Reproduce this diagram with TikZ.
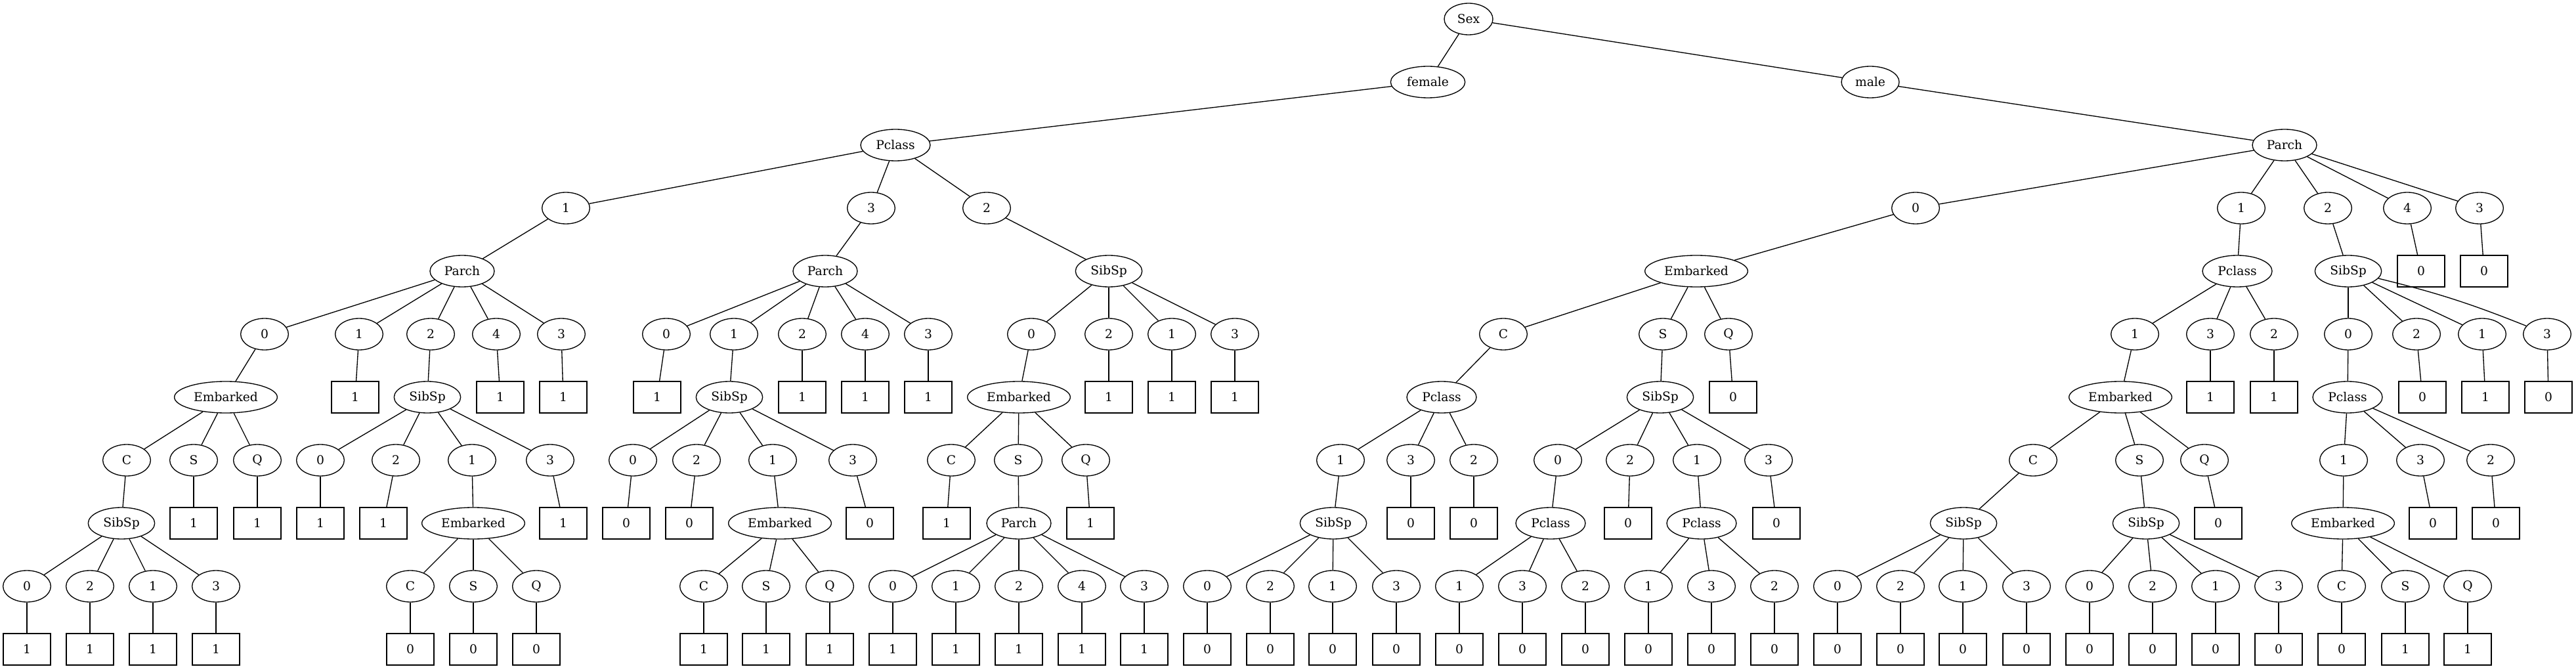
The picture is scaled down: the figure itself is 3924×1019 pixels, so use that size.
\documentclass[tikz,border=0pt]{standalone}
\usepackage{fontspec}
\setmainfont{DejaVu Serif}
\usetikzlibrary{shapes.geometric}
\begin{document}
\begin{tikzpicture}[x=0.75pt,y=-0.75pt,
  every node/.style={font=\fontsize{14pt}{16pt}\selectfont, inner sep=0pt, line width=1pt},
  ov/.style={draw, ellipse, minimum width=54.5pt, minimum height=36pt},
  bx/.style={draw, rectangle, minimum width=54pt, minimum height=36pt},
  emb/.style={ov, minimum width=117.5pt},
  sib/.style={ov, minimum width=76pt},
  par/.style={ov, minimum width=73.5pt},
  pcl/.style={ov, minimum width=79.5pt},
  e/.style={draw, line width=1pt}]
\useasboundingbox (0,0) rectangle (3924,1019);
% levels 0-2
\node[ov, minimum width=55.5pt] (sex) at (2237,29) {Sex};
\node[ov, minimum width=85pt] (fem) at (2175,125) {female};
\node[ov, minimum width=66pt] (mal) at (2849,125) {male};
\node[pcl] (fP) at (1364,221) {Pclass};
\node[par] (mP) at (3480,221) {Parch};
% level 3
\foreach \n/\x/\t in {f1/862/1, f3/1327/3, f2/1503/2, m0/2918/0, m1/3414/1, m2/3546/2, m4/3667/4, m3/3777/3}
  \node[ov] (\n) at (\x,317) {\t};
% level 4
\node[par] (aP) at (704,413) {Parch};
\node[par] (bP) at (1257,413) {Parch};
\node[sib] (cS) at (1689,413) {SibSp};
\node[emb] (dE) at (2584,413) {Embarked};
\node[pcl] (eP) at (3408,413) {Pclass};
\node[sib] (gS) at (3577,413) {SibSp};
\node[bx] (m4L) at (3688,413) {0};
\node[bx] (m3L) at (3784,413) {0};
% level 5
\foreach \n/\x/\t in {a0/403/0, a1/547/1, a2/656/2, a4/756/4, a3/855/3,
  b0/1015/0, b1/1118/1, b2/1222/2, b4/1318/4, b3/1414/3,
  c0/1571/0, c2/1689/2, c1/1785/1, c3/1881/3,
  dC/2290/C, dS/2533/S, dQ/2633/Q,
  e1/3252/1, e3/3367/3, e2/3464/2,
  g0/3577/0, g2/3681/2, g1/3781/1, g3/3880/3}
  \node[ov] (\n) at (\x,509) {\t};
% level 6
\node[emb] (aE) at (344,605) {Embarked};
\node[sib] (aS) at (651,605) {SibSp};
\node[sib] (bS) at (1111,605) {SibSp};
\node[emb] (cE) at (1552,605) {Embarked};
\node[pcl] (dCP) at (2196,605) {Pclass};
\node[sib] (dSS) at (2529,605) {SibSp};
\node[emb] (eE) at (3230,605) {Embarked};
\node[pcl] (gP) at (3576,605) {Pclass};
\foreach \n/\x/\v in {a1L/541/1, a4L/762/1, a3L/858/1, b0L/1001/1, b2L/1222/1, b4L/1318/1, b3L/1414/1,
  c2L/1689/1, c1L/1785/1, c3L/1881/1, dQL/2640/0, e3L/3367/1, e2L/3464/1, g2L/3690/0, g1L/3786/1, g3L/3882/0}
  \node[bx] (\n) at (\x,605) {\v};
% level 7
\foreach \n/\x/\t in {aEC/193/C, aES/295/S, aEQ/392/Q, aS0/488/0, aS2/603/2, aS1/719/1, aS3/838/3,
  bS0/964/0, bS2/1061/2, bS1/1177/1, bS3/1299/3, cEC/1449/C, cES/1551/S, cEQ/1654/Q,
  dCP1/2042/1, dCP3/2149/3, dCP2/2245/2, dSS0/2373/0, dSS2/2483/2, dSS1/2585/1, dSS3/2694/3,
  eC/3097/C, eS/3259/S, eQ/3358/Q, gP1/3570/1, gP3/3687/3, gP2/3794/2}
  \node[ov] (\n) at (\x,701) {\t};
% level 8
\node[sib] (aECS) at (185,797) {SibSp};
\node[emb] (aS1E) at (721,797) {Embarked};
\node[emb] (bS1E) at (1188,797) {Embarked};
\node[par] (cP) at (1552,797) {Parch};
\node[sib] (dX) at (2031,797) {SibSp};
\node[pcl] (dY) at (2362,797) {Pclass};
\node[pcl] (dZ) at (2592,797) {Pclass};
\node[sib] (eCS) at (2991,797) {SibSp};
\node[sib] (eSS) at (3269,797) {SibSp};
\node[emb] (gE) at (3569,797) {Embarked};
\foreach \n/\x/\v in {aESL/295/1, aEQL/392/1, aS0L/488/1, aS2L/584/1, aS3L/858/1,
  bS0L/954/0, bS2L/1050/0, bS3L/1325/0, cECL/1442/1, cEQL/1661/1,
  dCP3L/2149/0, dCP2L/2245/0, dSS2L/2480/0, dSS3L/2706/0, eQL/3379/0, gP3L/3706/0, gP2L/3802/0}
  \node[bx] (\n) at (\x,797) {\v};
% levels 9-10
\foreach \n/\x/\t/\v in {aECS0/41/0/1, aECS2/137/2/1, aECS1/233/1/1, aECS3/329/3/1,
  aS1EC/625/C/0, aS1ES/721/S/0, aS1EQ/817/Q/0,
  bEC/1072/C/1, bES/1167/S/1, bEQ/1264/Q/1,
  cP0/1360/0/1, cP1/1456/1/1, cP2/1552/2/1, cP4/1648/4/1, cP3/1743/3/1,
  dX0/1839/0/0, dX2/1935/2/0, dX1/2030/1/0, dX3/2127/3/0,
  dY1/2223/1/0, dY3/2319/3/0, dY2/2415/2/0,
  dZ1/2511/1/0, dZ3/2607/3/0, dZ2/2703/2/0,
  eCS0/2799/0/0, eCS2/2895/2/0, eCS1/2990/1/0, eCS3/3087/3/0,
  eSS0/3183/0/0, eSS2/3279/2/0, eSS1/3375/1/0, eSS3/3471/3/0,
  gEC/3567/C/0, gES/3664/S/1, gEQ/3759/Q/1}
  {\node[ov] (\n) at (\x,893) {\t};
   \node[bx] (\n-L) at (\x,989) {\v};
   \draw[e] (\n) -- (\n-L);}
% edges
\foreach \a/\b in {sex/fem, sex/mal, fem/fP, mal/mP,
  fP/f1, fP/f3, fP/f2, f1/aP, f3/bP, f2/cS,
  aP/a0, aP/a1, aP/a2, aP/a4, aP/a3, a0/aE, a1/a1L, a2/aS, a4/a4L, a3/a3L,
  aE/aEC, aE/aES, aE/aEQ, aEC/aECS, aES/aESL, aEQ/aEQL,
  aECS/aECS0, aECS/aECS2, aECS/aECS1, aECS/aECS3,
  aS/aS0, aS/aS2, aS/aS1, aS/aS3, aS0/aS0L, aS2/aS2L, aS1/aS1E, aS3/aS3L,
  aS1E/aS1EC, aS1E/aS1ES, aS1E/aS1EQ,
  bP/b0, bP/b1, bP/b2, bP/b4, bP/b3, b0/b0L, b1/bS, b2/b2L, b4/b4L, b3/b3L,
  bS/bS0, bS/bS2, bS/bS1, bS/bS3, bS0/bS0L, bS2/bS2L, bS1/bS1E, bS3/bS3L,
  bS1E/bEC, bS1E/bES, bS1E/bEQ,
  cS/c0, cS/c2, cS/c1, cS/c3, c0/cE, c2/c2L, c1/c1L, c3/c3L,
  cE/cEC, cE/cES, cE/cEQ, cEC/cECL, cES/cP, cEQ/cEQL,
  cP/cP0, cP/cP1, cP/cP2, cP/cP4, cP/cP3,
  mP/m0, mP/m1, mP/m2, mP/m4, mP/m3, m0/dE, m1/eP, m2/gS, m4/m4L, m3/m3L,
  dE/dC, dE/dS, dE/dQ, dC/dCP, dS/dSS, dQ/dQL,
  dCP/dCP1, dCP/dCP3, dCP/dCP2, dCP1/dX, dCP3/dCP3L, dCP2/dCP2L,
  dX/dX0, dX/dX2, dX/dX1, dX/dX3,
  dSS/dSS0, dSS/dSS2, dSS/dSS1, dSS/dSS3, dSS0/dY, dSS2/dSS2L, dSS1/dZ, dSS3/dSS3L,
  dY/dY1, dY/dY3, dY/dY2, dZ/dZ1, dZ/dZ3, dZ/dZ2,
  eP/e1, eP/e3, eP/e2, e1/eE, e3/e3L, e2/e2L,
  eE/eC, eE/eS, eE/eQ, eC/eCS, eS/eSS, eQ/eQL,
  eCS/eCS0, eCS/eCS2, eCS/eCS1, eCS/eCS3, eSS/eSS0, eSS/eSS2, eSS/eSS1, eSS/eSS3,
  gS/g0, gS/g2, gS/g1, g0/gP, g2/g2L, g1/g1L, g3/g3L,
  gP/gP1, gP/gP3, gP/gP2, gP1/gE, gP3/gP3L, gP2/gP2L,
  gE/gEC, gE/gES, gE/gEQ}
  \draw[e] (\a) -- (\b);
\draw[e] (gS) to[bend left=4] (g3);
\end{tikzpicture}
\end{document}
